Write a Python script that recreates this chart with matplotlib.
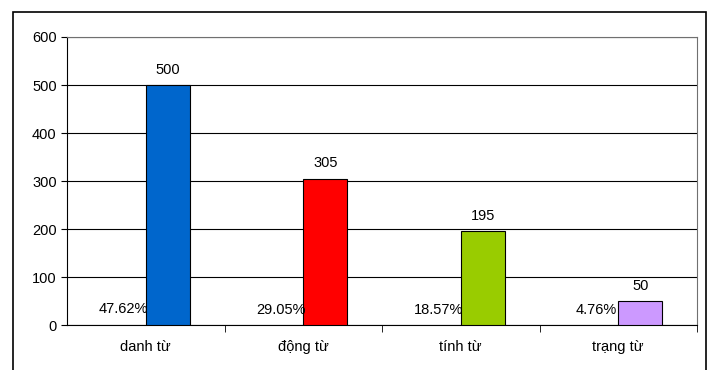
import numpy as np
import matplotlib.pyplot as plt
from matplotlib.patches import Rectangle

categories = ["danh từ", "động từ", "tính từ", "trạng từ"]
counts = [500, 305, 195, 50]
percents = [47.62, 29.05, 18.57, 4.76]
colors = ["#0066CC", "#FF0000", "#99CC00", "#CC99FF"]

plt.rcParams["font.family"] = ["Liberation Sans", "DejaVu Sans"]
plt.rcParams["font.size"] = 10.5

fig = plt.figure(figsize=(7.13, 3.70), dpi=100)
ax = fig.add_axes([0.094, 0.1216, 0.8836, 0.7784])

# outer chart border (bottom runs off the image)
fig.patches.append(Rectangle((13 / 713, -0.1), 693 / 713, 1.1 - 12 / 370,
                             transform=fig.transFigure, fill=False,
                             edgecolor="black", linewidth=1.2))

x = np.arange(len(categories))
w = 0.28
pct_bars = ax.bar(x - w / 2, [p / 100 for p in percents], w, color="none")
cnt_bars = ax.bar(x + w / 2, counts, w, color=colors, edgecolor="black",
                  linewidth=0.8, zorder=3)

ax.bar_label(pct_bars, labels=[f"{p:.2f}%" for p in percents], padding=6)
ax.bar_label(cnt_bars, padding=6)

ax.set_xlim(-0.5, len(categories) - 0.5)
ax.set_ylim(0, 600)
ax.set_yticks(range(0, 601, 100))
ax.yaxis.grid(True, color="black", linewidth=0.8)
ax.set_axisbelow(True)

ax.set_xticks(x)
ax.set_xticklabels(categories)
ax.tick_params(axis="x", length=0, pad=11)
ax.set_xticks(np.arange(0.5, len(categories), 1), minor=True)
ax.tick_params(axis="x", which="minor", length=5, direction="out")
ax.tick_params(axis="y", length=4, direction="out")

for s in ["top", "right"]:
    ax.spines[s].set_color("#707070")
for s in ["left", "bottom"]:
    ax.spines[s].set_color("black")

fig.savefig("out.png", dpi=100)
